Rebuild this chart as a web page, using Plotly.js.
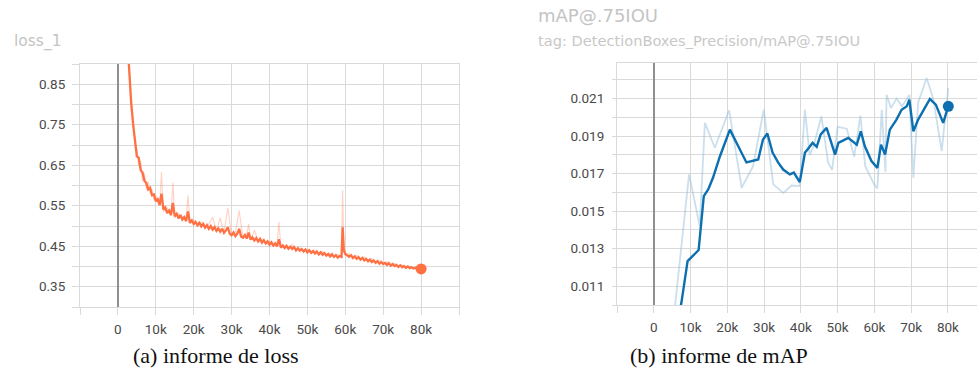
<!DOCTYPE html>
<html>
<head>
<meta charset="utf-8">
<script src="https://cdn.plot.ly/plotly-3.0.1.min.js"></script>
<style>
html,body{margin:0;padding:0;background:#fff;}
#chart{width:977px;height:376px;}
</style>
</head>
<body>
<div id="chart"></div>
<script>
// ---- Loss data (steps in thousands) ----
const lossSteps = [2.5,3,3.5,4,4.5,5,5.5,6,6.5,7,7.5,8,8.5,9,9.5,10,10.5,11,11.5,12,12.5,13,13.5,14,14.5,15,15.5,16,16.5,17,17.5,18,18.5,19,19.5,20,20.5,21,21.5,22,22.5,23,23.5,24,24.5,25,25.5,26,26.5,27,27.5,28,28.5,29,29.5,30,30.5,31,31.5,32,32.5,33,33.5,34,34.5,35,35.5,36,36.5,37,37.5,38,38.5,39,39.5,40,40.5,41,41.5,42,42.5,43,43.5,44,44.5,45,45.5,46,46.5,47,47.5,48,48.5,49,49.5,50,50.5,51,51.5,52,52.5,53,53.5,54,54.5,55,55.5,56,56.5,57,57.5,58,58.5,59,59.3,59.6,60,60.5,61,61.5,62,62.5,63,63.5,64,64.5,65,65.5,66,66.5,67,67.5,68,68.5,69,69.5,70,70.5,71,71.5,72,72.5,73,73.5,74,74.5,75,75.5,76,76.5,77,77.5,78,78.5,79,79.5,80];
const lossSmoothed = [0.960,0.872,0.805,0.752,0.718,0.672,0.668,0.638,0.632,0.612,0.606,0.590,0.594,0.576,0.578,0.561,0.566,0.552,0.580,0.541,0.546,0.532,0.538,0.527,0.557,0.524,0.530,0.519,0.527,0.516,0.522,0.512,0.536,0.508,0.514,0.505,0.510,0.502,0.508,0.499,0.505,0.496,0.502,0.493,0.500,0.491,0.497,0.488,0.494,0.486,0.493,0.483,0.489,0.497,0.481,0.477,0.484,0.475,0.481,0.493,0.474,0.471,0.478,0.469,0.484,0.467,0.472,0.464,0.470,0.462,0.468,0.459,0.465,0.457,0.462,0.454,0.460,0.452,0.457,0.450,0.467,0.447,0.452,0.446,0.451,0.444,0.449,0.443,0.448,0.440,0.445,0.439,0.443,0.437,0.442,0.435,0.440,0.434,0.438,0.432,0.437,0.430,0.435,0.429,0.433,0.427,0.431,0.425,0.430,0.424,0.428,0.422,0.426,0.424,0.497,0.440,0.431,0.428,0.424,0.428,0.421,0.425,0.419,0.423,0.417,0.421,0.415,0.419,0.413,0.417,0.411,0.415,0.409,0.413,0.407,0.411,0.406,0.409,0.404,0.408,0.402,0.406,0.401,0.404,0.399,0.403,0.398,0.401,0.397,0.400,0.396,0.398,0.395,0.397,0.394,0.396,0.394];
const lossRawSteps = [2.5,3,3.5,4,4.5,5,5.5,6,6.5,7,7.5,8,8.5,9,9.5,10,11,11.5,12,13,14,14.5,15,16,17,18,18.5,19,20,21,22,23,24,25,26,27,28,29,30,31,32,33,34,34.5,35,36,37,38,39,40,41,42,42.5,43,44,45,46,47,48,49,50,51,52,53,54,55,56,57,58,59,59.3,59.6,60,61,62,63,64,65,66,67,68,69,70,71,72,73,74,75,76,77,78,79,80];
const lossRaw = [0.98,0.88,0.79,0.77,0.70,0.69,0.65,0.66,0.61,0.63,0.59,0.61,0.58,0.59,0.565,0.575,0.55,0.633,0.535,0.545,0.525,0.608,0.52,0.53,0.515,0.52,0.575,0.505,0.515,0.50,0.51,0.495,0.505,0.522,0.488,0.52,0.484,0.545,0.476,0.485,0.538,0.47,0.478,0.505,0.465,0.49,0.462,0.468,0.455,0.462,0.45,0.458,0.51,0.445,0.452,0.442,0.455,0.438,0.446,0.436,0.443,0.433,0.44,0.43,0.437,0.426,0.432,0.423,0.43,0.421,0.588,0.45,0.428,0.432,0.421,0.428,0.418,0.424,0.414,0.42,0.41,0.416,0.405,0.412,0.403,0.408,0.399,0.404,0.397,0.401,0.394,0.398,0.392];

// ---- mAP data (steps in thousands) ----
const mapSteps = [6.0,7.5,9.2,10.7,12.2,13.6,14.8,16.1,18.0,20.7,25.2,28.4,29.7,30.9,32.3,33.8,35.2,37.0,38.1,39.7,41.1,43.2,44.3,45.4,47.0,49.3,50.2,52.9,55.2,56.3,57.4,59.2,60.8,61.8,62.9,64.2,66.0,67.4,68.8,69.5,70.6,71.9,73.5,75.1,76.7,78.7,80.1];
const mapSmoothed = [0.0088,0.0101,0.01234,0.01261,0.01293,0.0158,0.01616,0.01678,0.01793,0.01935,0.0176,0.01776,0.01882,0.01914,0.01813,0.0176,0.01722,0.01696,0.01706,0.01655,0.01811,0.01864,0.01843,0.01909,0.01944,0.01802,0.01864,0.01891,0.01855,0.01926,0.01846,0.01767,0.01731,0.01855,0.01802,0.01935,0.01988,0.02041,0.02059,0.02095,0.01926,0.01988,0.02041,0.02098,0.02068,0.01971,0.02059];
const mapRawSteps = [5.7,9.6,12.5,13.9,16.6,18.4,20.5,23.9,27.0,29.9,32.5,35.2,37.5,39.7,41.1,42.4,43.5,45.6,47.4,48.5,50.0,52.5,54.5,56.2,57.5,59.7,60.8,62.0,63.0,63.3,64.5,66.0,67.5,69.5,70.6,71.9,74.2,76.0,78.3,80.1];
const mapRaw = [0.0098,0.01696,0.01421,0.01971,0.01838,0.01935,0.02038,0.01625,0.0174,0.02041,0.01643,0.01598,0.01637,0.01634,0.02041,0.01799,0.0185,0.02006,0.0176,0.0172,0.0195,0.0194,0.0179,0.0201,0.0174,0.01652,0.0162,0.0204,0.0171,0.02121,0.0205,0.0210,0.0206,0.0212,0.01678,0.0208,0.0221,0.0210,0.0182,0.02157];

// ---- tick labels ----
const xTickVals = [-10,0,10,20,30,40,50,60,70,80,90];
const xTickText = ['','0','10k','20k','30k','40k','50k','60k','70k','80k',''];
const lossTickVals = [0.30,0.35,0.40,0.45,0.50,0.55,0.60,0.65,0.70,0.75,0.80,0.85,0.90];
const lossTickText = ['','0.35','','0.45','','0.55','','0.65','','0.75','','0.85',''];
const mapTickVals = [0.010,0.011,0.012,0.013,0.014,0.015,0.016,0.017,0.018,0.019,0.020,0.021,0.022];
const mapTickText = ['','0.011','','0.013','','0.015','','0.017','','0.019','','0.021',''];

const W = 977, H = 376;
const px = v => v / W;
const py = v => 1 - v / H;

const k = a => a.map(v => v * 1000);

const orange = '#ff7043';
const blue = '#0b6fb0';
const gridC = '#d9d9d9';
const tickFont = {family: 'Roboto, sans-serif', size: 13.5, color: '#4a4a4a'};

const traces = [
  {x: k(lossRawSteps), y: lossRaw, xaxis: 'x', yaxis: 'y', mode: 'lines',
   line: {color: 'rgba(255,112,67,0.3)', width: 1.2}, hoverinfo: 'skip'},
  {x: k(lossSteps), y: lossSmoothed, xaxis: 'x', yaxis: 'y', mode: 'lines',
   line: {color: orange, width: 2.3}},
  {x: [k(lossSteps)[lossSteps.length-1]], y: [lossSmoothed[lossSmoothed.length-1]], xaxis: 'x', yaxis: 'y',
   mode: 'markers', marker: {color: orange, size: 11}, cliponaxis: false},
  {x: k(mapRawSteps), y: mapRaw, xaxis: 'x2', yaxis: 'y2', mode: 'lines',
   line: {color: 'rgba(140,185,215,0.45)', width: 1.8}, hoverinfo: 'skip'},
  {x: k(mapSteps), y: mapSmoothed, xaxis: 'x2', yaxis: 'y2', mode: 'lines',
   line: {color: blue, width: 2.4}},
  {x: [k(mapSteps)[mapSteps.length-1]], y: [mapSmoothed[mapSmoothed.length-1]], xaxis: 'x2', yaxis: 'y2',
   mode: 'markers', marker: {color: blue, size: 11}, cliponaxis: false}
];

const baseX = {
  tickmode: 'array', tickfont: tickFont, showgrid: true, gridcolor: gridC, gridwidth: 1,
  ticks: 'outside', ticklen: 7, tickcolor: gridC, zeroline: true, zerolinecolor: '#8f8f8f',
  zerolinewidth: 1.5, showline: true, linecolor: gridC, mirror: true, fixedrange: true,
  ticklabelstandoff: 3
};
const baseY = {
  tickmode: 'array', tickfont: tickFont, showgrid: true, gridcolor: gridC, gridwidth: 1,
  ticks: 'outside', tickcolor: gridC, zeroline: false, fixedrange: true
};

const layout = {
  width: W, height: H,
  margin: {l: 0, r: 0, t: 0, b: 0},
  paper_bgcolor: '#fff', plot_bgcolor: '#fff',
  showlegend: false,
  xaxis: Object.assign({}, baseX, {
    domain: [px(80), px(459)], anchor: 'y', range: [-10000, 90000],
    tickvals: k(xTickVals), ticktext: xTickText
  }),
  yaxis: Object.assign({}, baseY, {
    domain: [py(307), py(64)], anchor: 'x', range: [0.30, 0.90],
    tickvals: lossTickVals, ticktext: lossTickText, ticklen: 7,
    showline: true, linecolor: gridC, mirror: true, ticklabelstandoff: 4
  }),
  xaxis2: Object.assign({}, baseX, {
    domain: [px(617), 1], anchor: 'y2', range: [-10000, 87900],
    tickvals: k(xTickVals), ticktext: xTickText
  }),
  yaxis2: Object.assign({}, baseY, {
    domain: [py(305), py(63)], anchor: 'x2', range: [0.0100, 0.0229],
    tickvals: mapTickVals, ticktext: mapTickText, ticklen: 4,
    showline: true, linecolor: gridC, mirror: false, ticklabelstandoff: 5
  }),
  annotations: [
    {text: 'loss_1', xref: 'paper', yref: 'paper', x: px(12), y: py(42), xanchor: 'left', yanchor: 'middle',
     showarrow: false, font: {family: '"DejaVu Sans", sans-serif', size: 15.5, color: '#c4c4c4'}},
    {text: 'mAP@.75IOU', xref: 'paper', yref: 'paper', x: px(536), y: py(16), xanchor: 'left', yanchor: 'middle',
     showarrow: false, font: {family: '"DejaVu Sans", sans-serif', size: 18, color: '#c4c4c4'}},
    {text: 'tag: DetectionBoxes_Precision/mAP@.75IOU', xref: 'paper', yref: 'paper', x: px(536), y: py(40),
     xanchor: 'left', yanchor: 'middle', showarrow: false,
     font: {family: '"DejaVu Sans", sans-serif', size: 14.6, color: '#c8c8c8'}},
    {text: '(a) informe de loss', xref: 'paper', yref: 'paper', x: px(216), y: py(355), xanchor: 'center', yanchor: 'middle',
     showarrow: false, font: {family: '"Liberation Serif", serif', size: 22, color: '#111'}},
    {text: '(b) informe de mAP', xref: 'paper', yref: 'paper', x: px(719), y: py(355), xanchor: 'center', yanchor: 'middle',
     showarrow: false, font: {family: '"Liberation Serif", serif', size: 22, color: '#111'}}
  ]
};

Plotly.newPlot('chart', traces, layout, {displayModeBar: false, staticPlot: true});
</script>
</body>
</html>
